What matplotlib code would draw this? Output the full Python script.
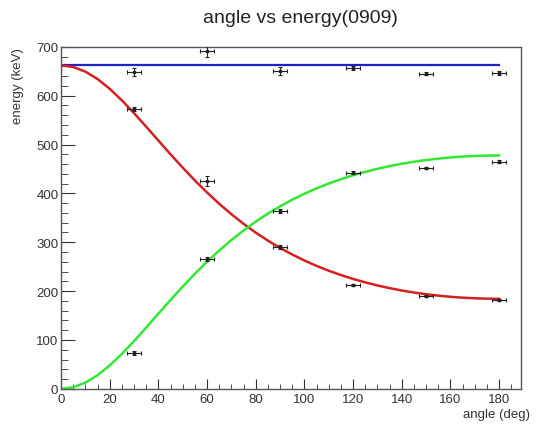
import numpy as np
import matplotlib.pyplot as plt
from matplotlib.ticker import MultipleLocator

plt.rcParams['font.family'] = ['Liberation Sans', 'DejaVu Sans']

# measured points (angle in deg, energy in keV)
angle = [30, 60, 90, 120, 150, 180]
angle_err = [3, 3, 3, 3, 3, 3]

e_total = [649, 691, 651, 656, 645, 647]
e_total_err = [8, 11, 8, 4, 3, 4]

e_gamma = [573, 426, 290, 213, 191, 181]
e_gamma_err = [4, 10, 4, 2, 2, 2]

e_electron = [73, 266, 364, 442, 452, 465]
e_electron_err = [4, 4, 5, 3, 3, 3]

# curves, every 5 deg
curve_angle = list(range(0, 181, 5))
curve_gamma = [662, 658.7, 649.2, 634.0, 614.0, 590.3, 564.1, 536.3, 508.0, 479.9,
               452.6, 426.4, 401.8, 378.7, 357.4, 337.7, 319.7, 303.3, 288.4, 274.9,
               262.7, 251.6, 241.7, 232.9, 224.9, 217.9, 211.6, 206.1, 201.3, 197.2,
               193.7, 190.8, 188.4, 186.6, 185.4, 184.6, 184.3]
curve_electron = [0, 3.3, 12.8, 28.0, 48.0, 71.7, 97.9, 125.7, 154.0, 182.1,
                  209.4, 235.6, 260.2, 283.3, 304.6, 324.3, 342.3, 358.7, 373.6, 387.1,
                  399.3, 410.4, 420.3, 429.1, 437.1, 444.1, 450.4, 455.9, 460.7, 464.8,
                  468.3, 471.2, 473.6, 475.4, 476.6, 477.4, 477.7]
line_total_x = [0, 180]
line_total_y = [662, 662]

fig = plt.figure(figsize=(5.36, 4.27), dpi=100)
ax = fig.add_axes([0.114, 0.087, 0.858, 0.801])

ax.plot(line_total_x, line_total_y, color='#2020c8', lw=1.6, zorder=2)
ax.plot(curve_angle, curve_gamma, color='#d42020', lw=1.8, zorder=2)
ax.plot(curve_angle, curve_electron, color='#33e833', lw=1.8, zorder=2)

for y, yerr in [(e_total, e_total_err), (e_gamma, e_gamma_err), (e_electron, e_electron_err)]:
    ax.errorbar(angle, y, xerr=angle_err, yerr=yerr, fmt='s', ms=1.6, color='#222222',
                ecolor='#222222', elinewidth=0.8, capsize=1.5, capthick=0.8, zorder=3)

ax.set_xlim(0, 189)
ax.set_ylim(0, 700)
ax.xaxis.set_major_locator(MultipleLocator(20))
ax.xaxis.set_minor_locator(MultipleLocator(5))
ax.yaxis.set_major_locator(MultipleLocator(100))
ax.yaxis.set_minor_locator(MultipleLocator(20))
ax.tick_params(which='both', direction='in', labelsize=9.5, colors='#333333')
ax.tick_params(axis='x', which='major', length=7, pad=3)
ax.tick_params(axis='x', which='minor', length=3.5)
ax.tick_params(axis='y', which='major', length=10, pad=2)
ax.tick_params(axis='y', which='minor', length=5)
for s in ax.spines.values():
    s.set_color('#555555')
    s.set_linewidth(1.0)

ax.set_xlabel('angle (deg)', fontsize=9.5, color='#333333')
ax.xaxis.set_label_coords(1.02, -0.055)
ax.xaxis.label.set_horizontalalignment('right')
ax.set_ylabel('energy (keV)', fontsize=9.5, color='#333333')
ax.yaxis.set_label_coords(-0.08, 1.0)
ax.yaxis.label.set_horizontalalignment('right')

fig.text(0.56, 0.957, 'angle vs energy(0909)', fontsize=14, ha='center', va='center', color='#222222')

fig.savefig('out.png', dpi=100)
